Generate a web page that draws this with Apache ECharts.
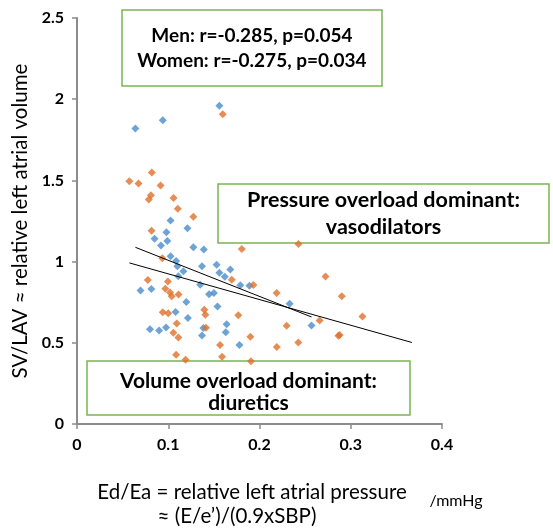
<!DOCTYPE html>
<html>
<head>
<meta charset="utf-8">
<script src="https://cdn.jsdelivr.net/npm/echarts@6/dist/echarts.min.js"></script>
<style>
html, body { margin: 0; padding: 0; background: #fff; }
#chart { width: 553px; height: 529px; }
</style>
</head>
<body>
<div id="chart"></div>
<script>
// men (blue) points: [Ed/Ea, SV/LAV]
const menPoints = [
  [0.064, 1.82], [0.094, 1.87], [0.156, 1.96], [0.1025, 1.253], [0.121, 1.206],
  [0.098, 1.181], [0.085, 1.14], [0.099, 1.127], [0.092, 1.099], [0.1275, 1.088],
  [0.139, 1.074], [0.1025, 1.033], [0.1086, 1.003], [0.110, 0.971], [0.137, 0.971],
  [0.1166, 0.94], [0.111, 0.91], [0.153, 0.98], [0.156, 0.932], [0.162, 0.907],
  [0.168, 0.951], [0.135, 0.858], [0.179, 0.854], [0.189, 0.852], [0.0696, 0.822],
  [0.0815, 0.831], [0.1447, 0.799], [0.150, 0.807], [0.1198, 0.751], [0.154, 0.724],
  [0.233, 0.741], [0.108, 0.689], [0.1215, 0.652], [0.164, 0.614], [0.163, 0.565],
  [0.1385, 0.591], [0.137, 0.545], [0.257, 0.607], [0.080, 0.583], [0.090, 0.576],
  [0.0976, 0.594], [0.178, 0.486]
];
// women (orange) points
const womenPoints = [
  [0.1597, 1.907], [0.0574, 1.494], [0.0674, 1.481], [0.082, 1.549], [0.0916, 1.469],
  [0.081, 1.409], [0.0787, 1.383], [0.1058, 1.391], [0.1105, 1.325], [0.1275, 1.276],
  [0.0817, 1.19], [0.0935, 1.02], [0.1806, 1.078], [0.2427, 1.109], [0.0776, 0.887],
  [0.0996, 0.878], [0.0968, 0.833], [0.102, 0.81], [0.1038, 0.786], [0.1113, 0.798],
  [0.1696, 0.889], [0.1933, 0.856], [0.2188, 0.807], [0.2723, 0.909], [0.2902, 0.786],
  [0.094, 0.688], [0.100, 0.682], [0.1395, 0.704], [0.1407, 0.673], [0.1768, 0.67],
  [0.1093, 0.619], [0.1414, 0.593], [0.1056, 0.562], [0.1111, 0.533], [0.190, 0.537],
  [0.2297, 0.605], [0.2659, 0.638], [0.3128, 0.662], [0.2865, 0.543], [0.2878, 0.548],
  [0.1568, 0.486], [0.219, 0.474], [0.2425, 0.502], [0.1086, 0.426], [0.119, 0.395],
  [0.159, 0.414], [0.1906, 0.387]
];
// trend lines (end points)
const menTrend = [[0.064, 1.088], [0.257, 0.659]];
const womenTrend = [[0.0574, 0.992], [0.367, 0.502]];

const statLines = ['Men: r=-0.285, p=0.054', 'Women: r=-0.275, p=0.034'];
const pressureText = 'Pressure overload dominant:\nvasodilators';
const volumeText = 'Volume overload dominant:\ndiuretics';
const xTitle1 = 'Ed/Ea = relative left atrial pressure';
const xTitle2 = '≈ (E/e’)/(0.9xSBP)';
const xUnit = '/mmHg';
const yTitle = 'SV/LAV ≈ relative left atrial volume';

const FONT = 'Lato';
const GREEN = '#7ab552';
const axisGray = '#8c8c8c';

function box(x, y, w, h, text, size, lh, dy) {
  return {
    type: 'group', z: 100,
    children: [
      { type: 'rect', shape: { x: x, y: y, width: w, height: h },
        style: { fill: '#fff', stroke: GREEN, lineWidth: 1.5 } },
      { type: 'text', x: x + w / 2, y: y + h / 2 + (dy || 0),
        style: { text: text, fontFamily: FONT, fontWeight: 'bold', fontSize: size,
          fill: '#000', align: 'center', verticalAlign: 'middle', lineHeight: lh } }
    ]
  };
}

const chart = echarts.init(document.getElementById('chart'));
chart.setOption({
  animation: false,
  grid: { left: 77, right: 111, top: 18, bottom: 105 },
  xAxis: {
    type: 'value', min: 0, max: 0.4, interval: 0.1,
    axisLine: { show: true, onZero: false, lineStyle: { color: axisGray, width: 2 } },
    axisTick: { show: true, length: 5, lineStyle: { color: axisGray, width: 1.5 } },
    axisLabel: { color: '#000', fontFamily: FONT, fontWeight: 'bold', fontSize: 16, margin: 13 },
    splitLine: { show: false }
  },
  yAxis: {
    type: 'value', min: 0, max: 2.5, interval: 0.5,
    name: yTitle, nameLocation: 'middle', nameRotate: 90, nameGap: 43,
    nameTextStyle: { color: '#000', fontFamily: FONT, fontSize: 20.5 },
    axisLine: { show: true, lineStyle: { color: axisGray, width: 2 } },
    axisTick: { show: true, length: 5, lineStyle: { color: axisGray, width: 1.5 } },
    axisLabel: { color: '#000', fontFamily: FONT, fontWeight: 'bold', fontSize: 16, margin: 13 },
    splitLine: { show: false }
  },
  series: [
    { name: 'Men', type: 'scatter', data: menPoints, symbol: 'diamond', symbolSize: 8,
      itemStyle: { color: '#4a8ccb' } },
    { name: 'Women', type: 'scatter', data: womenPoints, symbol: 'diamond', symbolSize: 8,
      itemStyle: { color: '#e0702b' } },
    { type: 'line', data: menTrend, symbol: 'none', lineStyle: { color: '#000', width: 1 }, z: 5 },
    { type: 'line', data: womenTrend, symbol: 'none', lineStyle: { color: '#000', width: 1 }, z: 5 }
  ],
  graphic: [
    box(122, 10, 260, 76, statLines.join('\n'), 19, 25),
    box(218, 184, 331, 59, pressureText, 21.5, 27),
    box(87, 361, 323, 54, volumeText, 21, 22, 4),
    { type: 'text', x: 252, y: 492, style: { text: xTitle1, fontFamily: FONT, fontSize: 20.5,
        fill: '#000', align: 'center', verticalAlign: 'middle' } },
    { type: 'text', x: 237, y: 516, style: { text: xTitle2, fontFamily: FONT, fontSize: 20.5,
        fill: '#000', align: 'center', verticalAlign: 'middle' } },
    { type: 'text', x: 456, y: 501, style: { text: xUnit, fontFamily: FONT, fontSize: 16,
        fill: '#000', align: 'center', verticalAlign: 'middle' } }
  ]
});
</script>
</body>
</html>
